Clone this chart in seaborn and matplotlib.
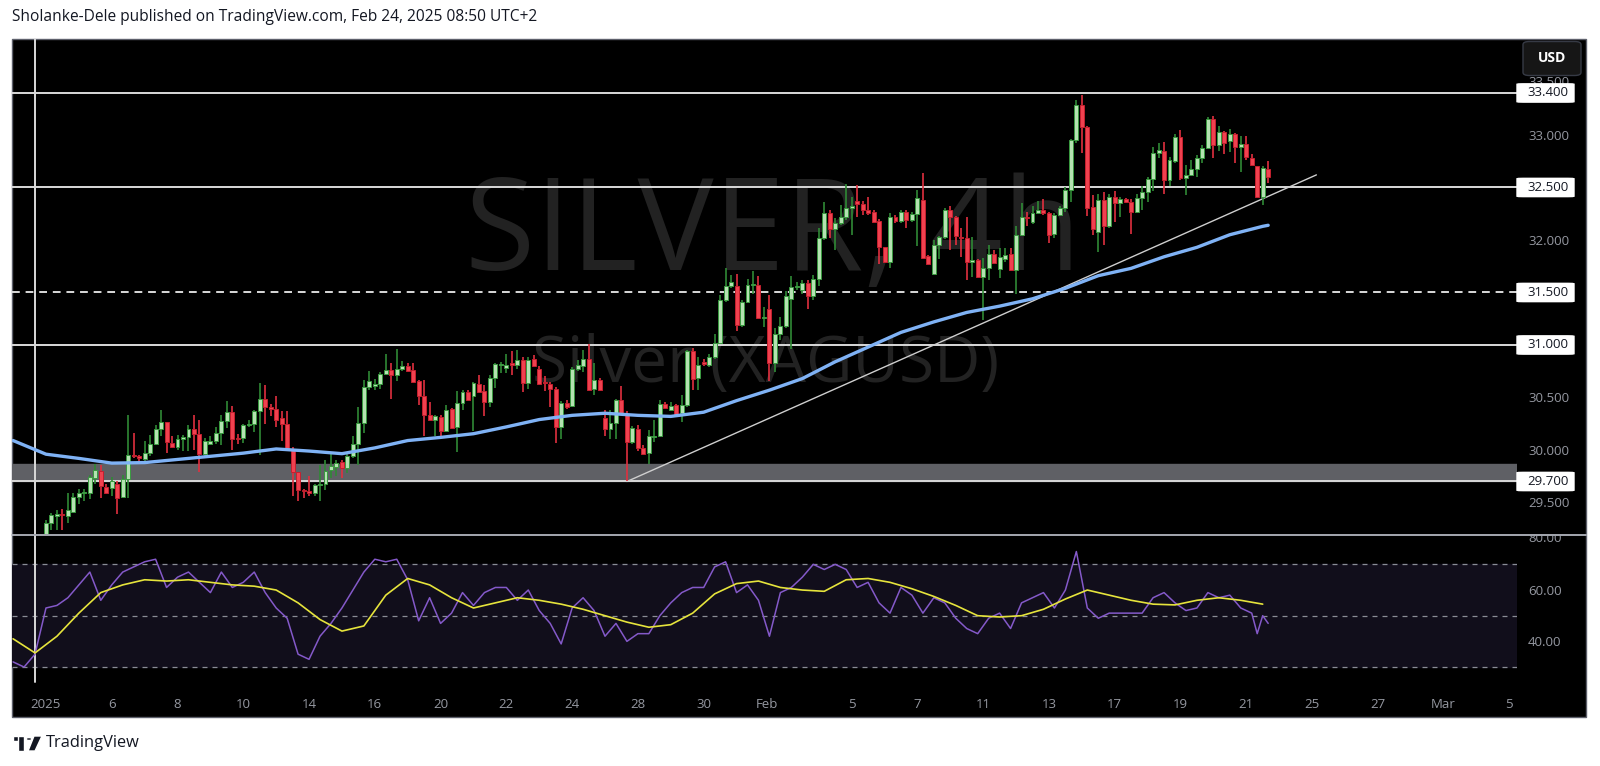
import numpy as np
import pandas as pd
import seaborn as sns
import matplotlib.pyplot as plt
from matplotlib.patches import Rectangle, FancyBboxPatch, Circle, Polygon
from matplotlib.transforms import blended_transform_factory, Bbox, TransformedBbox

# ---------------- data (4h candles, bar 0 = Dec 31) ----------------
opens = [28.95,28.90,28.86,28.92,28.88,28.98,29.10,29.30,29.37,29.39,
         29.37,29.41,29.55,29.59,29.59,29.73,29.80,29.65,29.64,29.68,
         29.55,29.72,29.95,29.94,29.91,29.97,30.06,30.20,30.27,30.07,
         30.03,30.10,30.12,30.20,30.15,29.96,30.06,30.09,30.16,30.28,
         30.36,30.11,30.11,30.24,30.25,30.37,30.49,30.41,30.39,30.30,
         30.25,30.00,29.79,29.62,29.61,29.59,29.67,29.68,29.81,29.84,
         29.89,29.83,29.94,30.06,30.26,30.60,30.61,30.63,30.72,30.76,
         30.71,30.77,30.80,30.76,30.66,30.51,30.33,30.29,30.31,30.18,
         30.39,30.22,30.45,30.55,30.51,30.63,30.56,30.46,30.69,30.81,
         30.78,30.83,30.81,30.86,30.64,30.87,30.77,30.65,30.63,30.58,
         30.22,30.45,30.42,30.77,30.80,30.87,30.58,30.67,30.30,30.20,
         30.26,30.48,30.33,30.08,30.20,30.02,29.97,30.12,30.13,30.44,
         30.38,30.43,30.35,30.43,30.94,30.69,30.84,30.81,30.89,31.02,
         31.43,31.56,31.56,31.19,31.41,31.57,31.57,31.26,31.34,30.83,
         31.10,31.18,31.44,31.55,31.52,31.59,31.47,31.63,32.02,32.26,
         32.10,32.16,32.22,32.30,32.37,32.34,32.29,32.27,32.18,31.93,
         31.79,32.22,32.18,32.27,32.19,32.25,32.38,31.85,31.68,31.95,
         32.03,32.29,32.22,32.03,32.02,31.79,31.81,31.65,31.73,31.87,
         31.72,31.82,31.87,31.71,32.05,32.22,32.17,32.26,32.29,32.26,
         32.06,32.24,32.30,32.48,32.95,33.29,33.08,32.31,32.08,32.38,
         32.13,32.41,32.35,32.39,32.36,32.27,32.40,32.46,32.58,32.83,
         32.85,32.57,32.75,32.98,32.59,32.62,32.68,32.78,32.88,33.15,
         32.90,33.03,32.94,33.01,32.89,32.91,32.78,32.70,32.41,32.68]
highs = [29.05,28.98,28.95,29.00,29.02,29.15,29.33,29.40,29.43,29.44,
         29.59,29.59,29.63,29.63,29.76,29.87,29.86,29.68,29.74,29.70,
         29.76,30.33,30.16,29.95,30.09,30.14,30.24,30.38,30.27,30.13,
         30.14,30.14,30.24,30.33,30.29,30.11,30.13,30.22,30.33,30.47,
         30.42,30.15,30.25,30.29,30.38,30.64,30.62,30.44,30.51,30.37,
         30.37,30.03,29.79,29.63,29.75,29.68,29.86,29.90,29.96,29.90,
         29.90,29.97,30.13,30.41,30.67,30.75,30.68,30.74,30.91,30.83,
         30.96,30.85,30.83,30.83,30.67,30.67,30.46,30.33,30.33,30.43,
         30.40,30.56,30.57,30.57,30.65,30.71,30.62,30.71,30.83,30.84,
         30.91,30.94,30.95,30.89,30.89,30.90,30.80,30.70,30.65,30.60,
         30.47,30.48,30.79,30.86,30.95,31.01,30.83,30.69,30.38,30.38,
         30.49,30.61,30.37,30.23,30.24,30.05,30.19,30.29,30.48,30.46,
         30.46,30.44,30.52,30.95,30.97,30.89,30.87,30.91,31.10,31.48,
         31.73,31.67,31.68,31.43,31.63,31.70,31.66,31.36,31.48,31.16,
         31.27,31.51,31.66,31.60,31.62,31.62,31.67,32.11,32.36,32.29,
         32.21,32.33,32.53,32.41,32.52,32.37,32.41,32.29,32.20,31.93,
         32.26,32.24,32.29,32.29,32.27,32.48,32.64,31.86,32.00,32.04,
         32.30,32.32,32.23,32.11,32.22,32.03,31.82,31.83,31.95,31.90,
         31.92,31.92,31.92,32.13,32.35,32.27,32.32,32.37,32.39,32.27,
         32.26,32.32,32.50,32.96,33.33,33.38,33.09,32.43,32.44,32.46,
         32.44,32.47,32.41,32.40,32.39,32.44,32.51,32.60,32.89,32.92,
         32.93,32.79,33.01,33.05,32.71,32.76,32.81,32.90,33.17,33.18,
         33.09,33.04,33.06,33.02,32.99,32.99,32.82,32.70,32.70,32.75]
lows = [28.85,28.80,28.78,28.85,28.82,28.95,29.05,29.24,29.24,29.24,
        29.30,29.40,29.49,29.51,29.53,29.68,29.54,29.58,29.56,29.39,
        29.54,29.54,29.92,29.87,29.87,29.94,30.05,30.13,29.97,30.02,
        30.00,29.99,29.99,30.00,29.79,29.92,30.05,30.06,30.05,30.21,
        30.00,30.06,30.07,30.22,30.17,29.95,30.25,30.32,30.22,30.09,
        30.01,29.56,29.51,29.54,29.56,29.56,29.51,29.62,29.73,29.75,
        29.73,29.78,29.92,29.86,30.16,30.57,30.57,30.58,30.71,30.49,
        30.66,30.75,30.74,30.65,30.43,30.13,30.29,30.13,30.13,30.18,
        30.20,29.98,30.38,30.48,30.18,30.54,30.32,30.41,30.59,30.73,
        30.73,30.71,30.77,30.55,30.58,30.79,30.62,30.56,30.41,30.07,
        30.10,30.39,30.41,30.75,30.74,30.57,30.52,30.56,30.13,30.10,
        30.10,30.33,29.70,30.06,29.99,29.95,29.87,30.08,30.12,30.39,
        30.37,30.32,30.27,30.41,30.57,30.57,30.80,30.79,30.87,31.01,
        31.41,31.54,31.13,31.17,31.40,31.49,31.25,31.17,30.66,30.74,
        31.05,31.16,30.96,31.52,31.49,31.34,31.43,31.56,32.00,32.02,
        31.90,32.14,32.19,32.05,32.22,32.24,32.24,32.16,31.77,31.78,
        31.73,32.16,32.16,32.11,32.17,31.94,31.82,31.76,31.67,31.82,
        32.01,31.90,31.95,31.84,31.62,31.65,31.64,31.24,31.62,31.78,
        31.64,31.79,31.70,31.49,32.04,32.13,32.15,32.25,32.24,31.97,
        32.02,32.24,32.27,32.36,32.92,32.83,32.23,32.05,31.89,31.95,
        32.11,32.17,32.22,32.35,32.06,32.26,32.29,32.36,32.47,32.78,
        32.44,32.51,32.73,32.57,32.43,32.62,32.60,32.73,32.87,32.78,
        32.85,32.82,32.84,32.73,32.65,32.76,32.71,32.41,32.33,32.54]
closes = [28.90,28.86,28.92,28.88,28.98,29.10,29.30,29.38,29.39,29.38,
          29.43,29.55,29.59,29.60,29.74,29.81,29.66,29.59,29.70,29.54,
          29.72,29.95,29.94,29.92,29.97,30.06,30.20,30.27,30.08,30.03,
          30.10,30.12,30.20,30.15,29.96,30.09,30.09,30.16,30.28,30.36,
          30.10,30.10,30.24,30.25,30.37,30.49,30.41,30.39,30.29,30.25,
          30.01,29.79,29.62,29.61,29.59,29.67,29.68,29.80,29.85,29.88,
          29.83,29.94,30.06,30.26,30.60,30.66,30.63,30.72,30.76,30.71,
          30.77,30.80,30.75,30.65,30.51,30.33,30.29,30.32,30.18,30.38,
          30.21,30.45,30.55,30.48,30.64,30.55,30.46,30.69,30.82,30.82,
          30.81,30.81,30.86,30.64,30.86,30.80,30.63,30.64,30.58,30.22,
          30.45,30.41,30.77,30.81,30.87,30.57,30.67,30.57,30.20,30.26,
          30.48,30.34,30.08,30.21,30.02,29.96,30.13,30.13,30.44,30.40,
          30.42,30.33,30.43,30.94,30.68,30.81,30.82,30.89,31.02,31.43,
          31.56,31.60,31.19,31.41,31.57,31.58,31.26,31.27,30.83,31.10,
          31.18,31.47,31.55,31.56,31.59,31.47,31.63,32.02,32.26,32.10,
          32.16,32.22,32.30,32.32,32.34,32.29,32.26,32.17,31.93,31.79,
          32.22,32.18,32.27,32.19,32.25,32.40,31.83,31.77,31.95,32.03,
          32.29,32.22,32.04,32.02,31.79,31.81,31.65,31.73,31.87,31.78,
          31.84,31.86,31.71,32.05,32.22,32.21,32.26,32.29,32.26,32.05,
          32.24,32.30,32.48,32.95,33.29,33.08,32.30,32.10,32.38,32.13,
          32.41,32.35,32.39,32.36,32.27,32.40,32.46,32.58,32.83,32.86,
          32.57,32.76,32.98,32.59,32.62,32.68,32.78,32.88,33.15,32.90,
          33.03,32.92,33.01,32.89,32.91,32.79,32.71,32.41,32.69,32.60]

# moving average (blue) read every 6 bars
ma_bars = [0,6,12,18,24,30,36,42,48,54,60,66,72,78,84,90,96,102,108,114,120,
           126,132,138,144,150,156,162,168,174,180,186,192,198,204,210,216,222,228,229]
ma_vals = [30.09,29.96,29.92,29.875,29.88,29.91,29.94,29.97,30.01,29.99,29.965,
           30.02,30.09,30.12,30.155,30.22,30.29,30.33,30.35,30.33,30.32,
           30.36,30.47,30.57,30.68,30.84,30.98,31.12,31.22,31.31,31.37,
           31.44,31.54,31.66,31.73,31.84,31.93,32.05,32.13,32.14]

# RSI (purple) every 2 bars, RSI average (yellow) every 4 bars
rsi_bars = list(range(0, 227, 2)) + [227, 228, 229]
rsi_vals = [32,30,35,53,54,57,62,67,56,62, 67,69,71,72,61,65,67,63,59,67,
            61,63,67,59,53,49,35,33,42,47, 53,60,67,72,71,72,64,48,57,47,
            51,59,54,59,61,61,56,60,52,47, 39,53,57,52,42,47,40,43,43,50,
            55,59,61,61,69,71,59,62,56,42, 59,61,65,70,68,70,68,61,63,55,
            51,61,58,51,57,55,49,45,43,49, 51,45,55,57,59,53,60,75,53,49,
            51,51,51,51,57,59,55,52,53,59, 57,58,53,51, 43,50,47]
rsi_ma_bars = list(range(0, 229, 4))
rsi_ma_vals = [41,35.5,42,51,59,62,64,63.5,64,63, 62,61.5,60,55,48.5,44,46,58,64.5,62,
               57,53,55,57,56,54.5,52.5,50,47.5,45.5, 46.5,51,58.5,62.5,63.5,61,60,59.5,64,64.5,
               63,60.5,57.5,54,50,49.5,50,52.5,56.5,60, 58,56,54.5,54.2,56,57,56,54.5]

levels_solid = [33.4, 32.5, 31.0, 29.7]
level_dashed = 31.5
zone = (29.70, 29.87)
trend_start = (112, 29.70)
trend_end = (237.8, 32.62)
vline_bar = 4

price_ticks = [29.5, 30.0, 30.5, 31.0, 31.5, 32.0, 32.5, 33.0]
price_tick_hidden = 33.5
rsi_ticks = [40, 60]
rsi_tick_hidden = 80
time_tick_bars = [6, 18, 30, 42, 54, 66, 78, 90, 102, 114, 126, 137.5, 153,
                  165, 177, 189, 201, 213, 225, 237, 249, 261, 273]
time_tick_labels = ['2025', '6', '8', '10', '14', '16', '20', '22', '24', '28', '30',
                    'Feb', '5', '7', '11', '13', '17', '19', '21', '25', '27', 'Mar', '5']

df = pd.DataFrame({'open': opens, 'high': highs, 'low': lows, 'close': closes})
df['bar'] = np.arange(len(df))

# ---------------- figure ----------------
sns.set_style('dark')
plt.rcParams['font.family'] = ['Open Sans', 'DejaVu Sans']

W, H = 1600, 766
fig = plt.figure(figsize=(W / 100, H / 100), dpi=100, facecolor='white')
axis_grey = '#9598a1'


def frac(x0, y0, x1, y1):
    return [x0 / W, 1 - y1 / H, (x1 - x0) / W, (y1 - y0) / H]


def fig_clip(y_top, y_bottom):
    return TransformedBbox(Bbox.from_extents(0, 1 - y_bottom / H, 1, 1 - y_top / H),
                           fig.transFigure)


# chart black background with border
fig.patches.append(Rectangle((12 / W, 1 - 717 / H), (1586 - 12) / W, (717 - 39) / H,
                             transform=fig.transFigure, facecolor='black',
                             edgecolor='#5d606b', lw=1.0, zorder=-1))

ax = fig.add_axes(frac(12, 39, 1517, 534))
ax2 = fig.add_axes(frac(12, 535, 1517, 688))
for a in (ax, ax2):
    a.set_facecolor('none')
    for s in a.spines.values():
        s.set_visible(False)
    a.grid(False)
    a.set_xlim(-0.2, 274.4)

ax.set_ylim(29.2, 33.914)
ax2.set_ylim(21.83, 81.44)

# watermark
ax.text(0.5057, 0.533, 'SILVER, 4h', transform=ax.transAxes, ha='center', va='baseline',
        fontsize=92, color='#222222', zorder=0.5)
ax.text(0.5007, 0.3077, 'Silver (XAGUSD)', transform=ax.transAxes, ha='center', va='baseline',
        fontsize=46, color='#222222', zorder=0.5)

# zone and levels
ax.axhspan(zone[0], zone[1], color='#5f6065', zorder=1)
for lv in levels_solid:
    ax.axhline(lv, color='#d9d9d9', lw=1.4, zorder=2)
ax.axhline(level_dashed, color='#d9d9d9', lw=1.4, ls=(0, (4, 3)), zorder=2)
ax.axvline(vline_bar, color='#d9d9d9', lw=1.4, zorder=2)
ax2.axvline(vline_bar, ymin=0.04, color='#d9d9d9', lw=1.4, zorder=2)

# trend line
ax.plot([trend_start[0], trend_end[0]], [trend_start[1], trend_end[1]],
        color='#cfcfcf', lw=1.0, zorder=2.5)

# moving average
sns.lineplot(x=ma_bars, y=ma_vals, ax=ax, color='#7fb2f5', lw=2.4, zorder=4)

# candles
up = df['close'] >= df['open']
dn = ~up
body_w = 0.72
for mask, wick, fill, edge in [(up, '#2f8a35', '#b4e2b1', '#3a9a40'),
                                (dn, '#e0303f', '#f0414f', '#c4202f')]:
    d = df[mask]
    ax.vlines(d['bar'], d['low'], d['high'], color=wick, lw=1.2, zorder=3)
    h = np.maximum((d['close'] - d['open']).abs(), 0.008)
    ax.bar(d['bar'], h, bottom=np.minimum(d['open'], d['close']), width=body_w,
           color=fill, edgecolor=edge, lw=0.7, zorder=3.2)

# price axis
ax.yaxis.tick_right()
ax.set_yticks(price_ticks)
ax.set_yticklabels([f'{v:.3f}' for v in price_ticks])
ax.tick_params(axis='y', length=0, pad=8, labelcolor=axis_grey, labelsize=9.5)
ax.set_xticks([])
ax.set_ylabel('')

trans = blended_transform_factory(ax.transAxes, ax.transData)
label_x = (1528 - 12) / 1505
# 33.500 sits between the USD button and the 33.400 tag: only a sliver shows
t = ax.text(label_x, price_tick_hidden, f'{price_tick_hidden:.3f}', transform=trans,
            ha='left', va='center', fontsize=9.5, color=axis_grey, zorder=9)
t.set_clip_box(fig_clip(76, 83.5))
t.set_clip_on(True)

box_h = 18.3 / 105
for lv in levels_solid + [level_dashed]:
    ax.add_patch(FancyBboxPatch((1.0, lv - box_h / 2), (1574 - 1517) / 1505, box_h,
                                boxstyle='round,pad=0,rounding_size=0.004', transform=trans,
                                facecolor='white', edgecolor='white', clip_on=False, zorder=10))
    ax.text((1548 - 12) / 1505, lv, f'{lv:.3f}', transform=trans, ha='center', va='center',
            fontsize=9.5, color='#131722', clip_on=False, zorder=11)

# RSI pane
ax2.axhspan(30, 70, color='#110e1b', zorder=0.5)
for lv in (70, 50, 30):
    ax2.axhline(lv, color='#8a8d96', lw=0.9, ls=(0, (4, 4)), zorder=1)
sns.lineplot(x=rsi_bars, y=rsi_vals, ax=ax2, color='#8459c9', lw=1.1, zorder=3)
sns.lineplot(x=rsi_ma_bars, y=rsi_ma_vals, ax=ax2, color='#e6e43c', lw=1.2, zorder=3.5)

ax2.yaxis.tick_right()
ax2.set_yticks(rsi_ticks)
ax2.set_yticklabels([f'{v:.2f}' for v in rsi_ticks])
ax2.tick_params(axis='y', length=0, pad=8, labelcolor=axis_grey, labelsize=9.5)
trans2 = blended_transform_factory(ax2.transAxes, ax2.transData)
t2 = ax2.text(label_x, rsi_tick_hidden, f'{rsi_tick_hidden:.2f}', transform=trans2,
              ha='left', va='center', fontsize=9.5, color=axis_grey, zorder=9)
t2.set_clip_box(fig_clip(536, 717))
t2.set_clip_on(True)

ax2.set_xticks(time_tick_bars)
ax2.set_xticklabels(time_tick_labels)
ax2.tick_params(axis='x', length=0, pad=7, labelcolor=axis_grey, labelsize=9.5)
ax2.set_ylabel('')
ax2.set_xlabel('')

# pane separator
fig.lines.append(plt.Line2D([12 / W, 1586 / W], [1 - 534.5 / H, 1 - 534.5 / H],
                            transform=fig.transFigure, color='#b2b5be', lw=1.3))

# USD button
fig.patches.append(FancyBboxPatch((1523 / W, 1 - 75.5 / H), 58 / W, 34 / H,
                                  boxstyle='round,pad=0,rounding_size=0.004',
                                  transform=fig.transFigure, facecolor='#161616',
                                  edgecolor='#363a45', lw=1.0, zorder=5))
fig.text(1552 / W, 1 - 58.5 / H, 'USD', ha='center', va='center', fontsize=10,
         fontweight='bold', color='white', zorder=6)

# header and footer
fig.text(12 / W, 1 - 17 / H, 'Sholanke-Dele published on TradingView.com, Feb 24, 2025 08:50 UTC+2',
         ha='left', va='center', fontsize=11.2, color='#131722')
fig.text(46 / W, 1 - 743 / H, 'TradingView', ha='left', va='center', fontsize=11.8,
         color='#131722')
# TradingView logo
fig.patches.append(Rectangle((13 / W, 1 - 741 / H), 11 / W, 5 / H, transform=fig.transFigure,
                             facecolor='#131722', zorder=5))
fig.patches.append(Rectangle((18 / W, 1 - 751 / H), 6 / W, 15 / H, transform=fig.transFigure,
                             facecolor='#131722', zorder=5))
fig.patches.append(Circle((29 / W, 1 - 739 / H), 3 / W, transform=fig.transFigure,
                          facecolor='#131722', zorder=5))
fig.patches.append(Polygon([(34 / W, 1 - 736 / H), (42 / W, 1 - 736 / H), (35 / W, 1 - 751 / H),
                            (28 / W, 1 - 751 / H)], closed=True, transform=fig.transFigure,
                           facecolor='#131722', zorder=5))

fig.savefig('out.png', dpi=100, facecolor='white')
